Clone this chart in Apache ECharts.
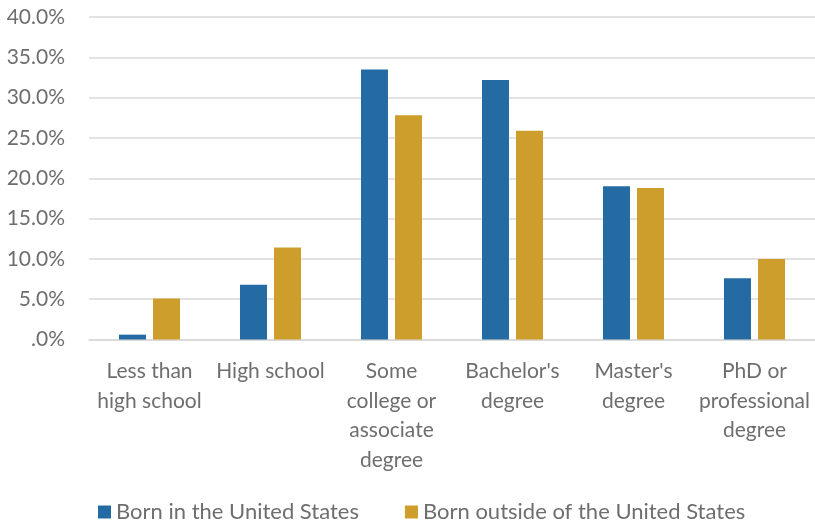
<!DOCTYPE html>
<html>
<head>
<meta charset="utf-8">
<script src="https://cdn.jsdelivr.net/npm/echarts@6/dist/echarts.min.js"></script>
<style>
  html, body { margin: 0; padding: 0; background: #fff; }
  #chart { width: 815px; height: 525px; }
</style>
</head>
<body>
<div id="chart"></div>
<script>
// education levels, share of each group (percent)
const categories = [
  "Less than\nhigh school",
  "High school",
  "Some\ncollege or\nassociate\ndegree",
  "Bachelor's\ndegree",
  "Master's\ndegree",
  "PhD or\nprofessional\ndegree",
];
const bornInUS = [0.6, 6.8, 33.5, 32.2, 19.0, 7.6];
const bornOutsideUS = [5.1, 11.4, 27.8, 25.9, 18.8, 10.0];
const seriesNames = ["Born in the United States", "Born outside of the United States"];

const FONT = "Lato";
const TEXT = "#6e6e6e";
const GRID = "#d9d9d9";

const chart = echarts.init(document.getElementById("chart"), null, { renderer: "canvas" });
chart.setOption({
  animation: false,
  color: ["#246ba4", "#ce9e2c"],
  textStyle: { fontFamily: FONT },
  grid: { left: 89, right: 0, top: 17, bottom: 185.5 },
  legend: {
    bottom: -3,
    left: 93,
    itemWidth: 13,
    itemHeight: 13,
    itemGap: 46,
    icon: "rect",
    textStyle: { fontFamily: FONT, fontSize: 22, color: TEXT },
    data: seriesNames,
  },
  xAxis: {
    type: "category",
    data: categories,
    axisLine: { lineStyle: { color: GRID, width: 1.5 } },
    axisTick: { show: false },
    axisLabel: { interval: 0, fontFamily: FONT, fontSize: 21, color: TEXT, lineHeight: 29.5, margin: 17 },
  },
  yAxis: {
    type: "value",
    min: 0,
    max: 40,
    interval: 5,
    axisLine: { show: false },
    axisTick: { show: false },
    splitLine: { lineStyle: { color: GRID, width: 1.5 } },
    axisLabel: {
      fontFamily: FONT, fontSize: 21, color: TEXT, margin: 24,
      formatter: (v) => (v === 0 ? ".0%" : v.toFixed(1) + "%"),
    },
  },
  series: [
    { name: seriesNames[0], type: "bar", data: bornInUS, barWidth: 27, barGap: "26%" },
    { name: seriesNames[1], type: "bar", data: bornOutsideUS, barWidth: 27, barGap: "26%" },
  ],
});
</script>
</body>
</html>
